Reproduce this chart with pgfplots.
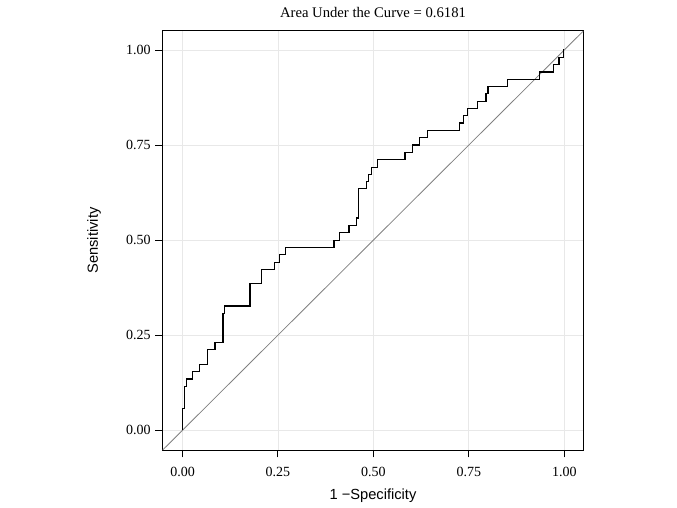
\documentclass[border=0pt]{standalone}
\usepackage{fontspec}
\setmainfont{Liberation Serif}
\setsansfont{Liberation Sans}
\usepackage{pgfplots}
\pgfplotsset{compat=1.18}
\usepackage{pgfplotstable}

% ROC curve: x = 1 - specificity where sensitivity rises, y = new sensitivity
\pgfplotstableread{
x      y
0      0
0      0.058
0.005  0.115
0.0105 0.135
0.027  0.154
0.044  0.173
0.066  0.212
0.085  0.231
0.106  0.308
0.111  0.327
0.177  0.385
0.206  0.423
0.241  0.442
0.254  0.462
0.270  0.481
0.397  0.500
0.412  0.519
0.436  0.538
0.455  0.558
0.461  0.635
0.483  0.654
0.487  0.673
0.496  0.692
0.510  0.712
0.583  0.731
0.603  0.750
0.620  0.769
0.642  0.788
0.725  0.808
0.736  0.827
0.746  0.846
0.773  0.865
0.795  0.885
0.800  0.904
0.851  0.923
0.935  0.942
0.972  0.962
0.986  0.981
0.998  1.000
1.000  1.000
}\roccurve

\begin{document}
\begin{tikzpicture}
\begin{axis}[
    scale only axis,
    width=315.5pt, height=314.25pt,
    xmin=-0.052, xmax=1.05,
    ymin=-0.052, ymax=1.05,
    xtick={0,0.25,0.5,0.75,1},
    ytick={0,0.25,0.5,0.75,1},
    xticklabels={0.00,0.25,0.50,0.75,1.00},
    yticklabels={0.00,0.25,0.50,0.75,1.00},
    tick align=outside, tick pos=left,
    major tick length=5.5pt,
    xticklabel shift=3.75pt,
    tick style={black, line width=0.75pt},
    axis line style={line width=0.75pt},
    grid=major,
    major grid style={black!9, line width=0.6pt},
    ticklabel style={font=\fontsize{10.5}{12}\selectfont},
    title={Area Under the Curve = 0.6181},
    title style={font=\fontsize{11}{13}\selectfont, at={(axis description cs:0.5,1)}, anchor=base, yshift=4.25pt},
    xlabel={1 −Specificity},
    xlabel style={font=\sffamily\fontsize{11}{13}\selectfont, at={(axis description cs:0.5,0)}, anchor=center, yshift=-34.4pt},
    ylabel={Sensitivity},
    ylabel style={font=\sffamily\fontsize{11}{13}\selectfont, at={(axis description cs:-0.1633,0.5)}, anchor=center},
]
\addplot[gray, line width=0.6pt] coordinates {(-0.052,-0.052) (1.05,1.05)};
\addplot[black, line width=0.9pt, const plot mark left] table[x=x, y=y] {\roccurve};
\end{axis}
\path (current axis.south west) ++(-122pt,-42.75pt) rectangle ++(507.75pt,380.25pt);
\end{tikzpicture}
\end{document}
